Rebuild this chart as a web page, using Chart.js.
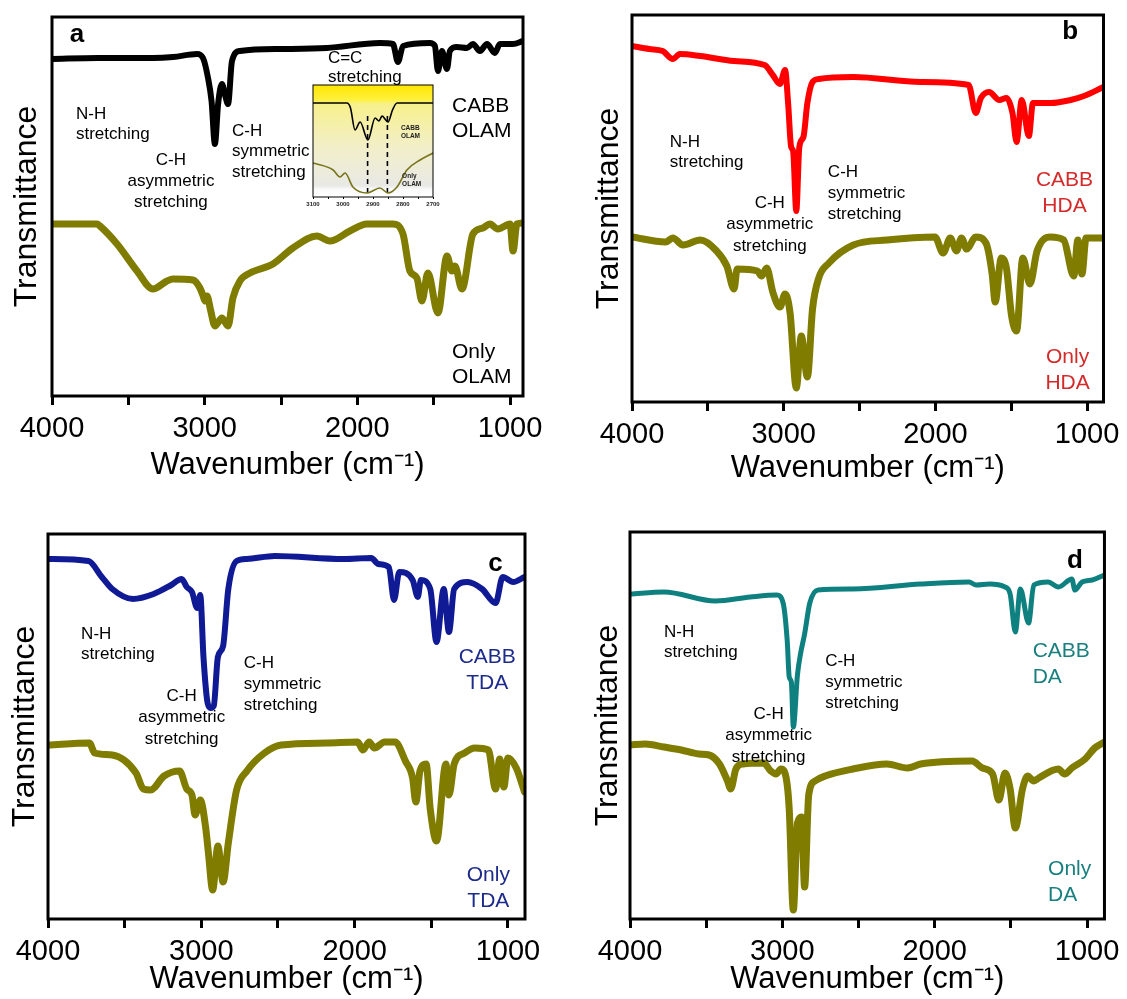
<!DOCTYPE html>
<html>
<head>
<meta charset="utf-8">
<title>FTIR spectra</title>
<script src="https://cdn.jsdelivr.net/npm/chart.js@4.4.1/dist/chart.umd.min.js"></script>
<style>
  body { margin: 0; background: #fff; }
  #fig { position: relative; width: 1127px; height: 999px; overflow: hidden; }
  #fig canvas { position: absolute; }
</style>
</head>
<body>
<div id="fig">
  <canvas id="pa" width="565" height="492" style="left:0px;top:0px"></canvas>
  <canvas id="pb" width="562" height="492" style="left:565px;top:0px"></canvas>
  <canvas id="pc" width="565" height="499" style="left:0px;top:500px"></canvas>
  <canvas id="pd" width="562" height="499" style="left:565px;top:500px"></canvas>
  <canvas id="inset" width="150" height="135" style="left:300px;top:80px"></canvas>
</div>
<script>
// wavenumber (cm-1), transmittance (a.u., offset traces)
const cabbOlam = [[4000,337],[3700,338],[3339,338],[3207,339],[3050,342],[3011,338],[2978,318],[2955,295],[2933,252],[2912,292],[2887,312],[2865,300],[2847,292],[2821,335],[2769,345],[2500,347],[2200,348],[1852,353],[1767,352],[1734,334],[1701,350],[1525,353],[1492,350],[1472,325],[1446,345],[1413,327],[1394,345],[1348,349],[1282,348],[1243,352],[1197,345],[1151,352],[1099,343],[1066,352],[981,352],[915,355]];
const onlyOlam = [[4000,172],[3705,172],[3686,170],[3574,152],[3443,125],[3339,107],[3247,115],[3207,117],[3077,116],[3031,108],[3010,100],[2998,95],[2985,100],[2960,85],[2933,70],[2887,78],[2847,70],[2815,98],[2769,115],[2703,123],[2553,132],[2422,148],[2265,160],[2180,155],[2049,165],[1937,172],[1767,172],[1701,162],[1656,125],[1610,118],[1577,95],[1538,123],[1472,83],[1413,140],[1380,125],[1361,130],[1315,107],[1243,162],[1178,168],[1132,172],[1080,167],[1000,172],[980,145],[955,172],[915,173]];

const cabbHda = [[4000,356],[3886,353],[3798,351],[3731,343],[3684,348],[3550,346],[3327,341],[3126,337],[3072,327],[3025,318],[2991,332],[2971,299],[2951,255],[2938,251],[2917,191],[2897,255],[2870,265],[2844,299],[2810,320],[2769,323],[2541,325],[2097,320],[1781,317],[1734,289],[1700,304],[1646,310],[1579,302],[1532,304],[1492,289],[1465,260],[1431,302],[1384,266],[1357,299],[1243,299],[1108,302],[1021,306],[892,315]];
const onlyHda = [[4000,165],[3778,160],[3731,164],[3664,157],[3550,162],[3442,151],[3375,136],[3327,113],[3307,133],[3173,131],[3146,126],[3112,134],[3072,110],[3025,95],[2991,108],[2958,89],[2917,14],[2884,66],[2844,25],[2810,93],[2769,124],[2702,139],[2541,157],[2319,162],[2003,165],[1949,149],[1902,164],[1861,151],[1828,164],[1794,153],[1734,165],[1667,159],[1626,128],[1606,100],[1566,144],[1532,134],[1498,86],[1465,71],[1424,144],[1377,118],[1330,151],[1243,165],[1155,162],[1088,126],[1061,162],[1034,128],[1007,164],[892,164]];

const cabbTda = [[4000,360],[3736,358],[3649,342],[3581,330],[3446,320],[3311,325],[3196,334],[3128,340],[3095,332],[3061,327],[3027,311],[3007,324],[2986,262],[2959,216],[2939,211],[2919,213],[2892,262],[2858,273],[2824,330],[2770,358],[2703,360],[2520,363],[2074,360],[1892,361],[1845,355],[1777,352],[1743,319],[1709,347],[1622,339],[1588,322],[1568,339],[1507,330],[1466,277],[1419,330],[1385,287],[1351,330],[1264,337],[1169,330],[1081,316],[1034,342],[966,337],[892,342]];
const onlyTda = [[4000,174],[3730,176],[3696,166],[3581,164],[3426,146],[3378,130],[3331,129],[3243,143],[3142,148],[3095,130],[3061,124],[3041,104],[3007,119],[2973,93],[2953,65],[2926,29],[2892,73],[2858,37],[2824,76],[2770,129],[2703,148],[2588,166],[2480,174],[2182,176],[1980,177],[1946,169],[1905,177],[1872,171],[1804,177],[1736,177],[1669,158],[1622,141],[1601,117],[1574,148],[1534,155],[1507,110],[1466,78],[1405,155],[1385,124],[1351,155],[1284,166],[1216,171],[1128,169],[1081,130],[1054,160],[1027,132],[1000,161],[946,151],[892,127]];

const cabbDa = [[4000,325],[3777,327],[3440,318],[3211,322],[3036,324],[2995,316],[2968,278],[2955,242],[2941,237],[2928,192],[2901,244],[2881,265],[2854,285],[2820,316],[2766,329],[2537,330],[2092,335],[1775,337],[1728,334],[1640,335],[1539,332],[1505,325],[1471,287],[1438,330],[1384,296],[1350,334],[1256,337],[1188,332],[1100,340],[1080,329],[1033,337],[966,339],[886,344]];
const onlyDa = [[4000,174],[3900,175],[3777,172],[3663,169],[3550,165],[3481,164],[3413,155],[3360,138],[3339,130],[3305,150],[3258,155],[3123,156],[3076,148],[3042,145],[3009,150],[2975,141],[2955,110],[2928,9],[2901,96],[2874,102],[2854,32],[2827,124],[2786,138],[2719,143],[2537,150],[2314,155],[2179,151],[2092,155],[1755,158],[1687,151],[1620,145],[1579,119],[1539,146],[1505,130],[1471,91],[1424,130],[1390,143],[1350,138],[1317,141],[1188,150],[1148,145],[1100,151],[1013,160],[950,171],[886,177]];

// C-H stretching region, zoomed
const insetCabbOlam = [[3100,94],[2987,94],[2975,89],[2960,67],[2943,75],[2917,57],[2893,79],[2880,76],[2870,81],[2850,75],[2835,87],[2820,94],[2700,94]];
const insetOnlyOlam = [[3100,34],[3033,27],[3010,20],[2993,24],[2967,10],[2920,4],[2877,9],[2850,4],[2820,10],[2787,27],[2743,37],[2700,44]];
const insetMarks = [2918, 2852];

const xTicks = [4000, 3500, 3000, 2500, 2000, 1500, 1000];
const insetTicks = [3100, 3050, 3000, 2950, 2900, 2850, 2800, 2750, 2700];

const FAMILY = 'Arial, "Liberation Sans", sans-serif';
const OLIVE = '#7f7c00';

const framePlugin = {
  id: 'frame',
  afterDraw(chart) {
    const {ctx, chartArea: a} = chart;
    ctx.save();
    ctx.strokeStyle = '#000';
    ctx.lineWidth = chart.canvas.id === 'inset' ? 1 : 3;
    ctx.strokeRect(a.left, a.top, a.right - a.left, a.bottom - a.top);
    ctx.restore();
  }
};

function notesPlugin(notes) {
  return {
    id: 'notes',
    afterDatasetsDraw(chart) {
      const {ctx, scales: {x, y}} = chart;
      ctx.save();
      ctx.textBaseline = 'middle';
      for (const n of notes) {
        ctx.font = (n.bold ? 'bold ' : '') + n.size + 'px ' + FAMILY;
        ctx.fillStyle = n.color || '#000';
        ctx.textAlign = n.align || 'left';
        const px = x.getPixelForValue(n.x);
        const py = y.getPixelForValue(n.y);
        n.text.forEach((t, i) => ctx.fillText(t, px, py + i * (n.lh || 0)));
      }
      ctx.restore();
    }
  };
}

function line(pts, color, width) {
  return {
    data: pts.map(([x, y]) => ({x, y})),
    borderColor: color,
    borderWidth: width,
    pointRadius: 0,
    cubicInterpolationMode: 'monotone',
    fill: false,
    borderJoinStyle: 'round',
    borderCapStyle: 'round'
  };
}

function bandNotes(c) {
  // common band labels; k stretches the line spacing a little per panel
  const k = c.k || 1;
  return [
    {text: [c.letter], x: c.letterAt[0], y: c.letterAt[1], size: 26, bold: true, align: 'center'},
    {text: ['N-H', 'stretching'], x: c.nh[0], y: c.nh[1], size: 17, lh: 20 * k},
    {text: ['C-H', 'asymmetric', 'stretching'], x: c.asym[0], y: c.asym[1], size: 17, lh: 21 * k, align: 'center'},
    {text: ['C-H', 'symmetric', 'stretching'], x: c.sym[0], y: c.sym[1], size: 17, lh: 20.5 * k},
    {text: ['CABB', c.name], x: c.top[0], y: c.top[1], size: 21, lh: 25 * k, color: c.color, align: c.align},
    {text: ['Only', c.name], x: c.bottom[0], y: c.bottom[1], size: 21, lh: 25 * k, color: c.color, align: c.align}
  ];
}

function panel(id, cfg) {
  return new Chart(document.getElementById(id), {
    type: 'line',
    data: {datasets: [line(cfg.top, cfg.color, cfg.width), line(cfg.bottom, OLIVE, 7)]},
    options: {
      responsive: false,
      animation: false,
      events: [],
      layout: {padding: {left: 0, top: cfg.padTop, right: cfg.padRight, bottom: 0}},
      plugins: {legend: {display: false}, tooltip: {enabled: false}},
      scales: {
        x: {
          type: 'linear',
          reverse: true,
          min: cfg.xMin,
          max: 4000,
          afterBuildTicks: s => { s.ticks = xTicks.map(v => ({value: v})); },
          afterFit: s => { s.height = cfg.xH; },
          ticks: {
            callback: v => (v % 1000 === 0 ? String(v) : ''),
            font: {size: 29, family: FAMILY},
            color: '#000',
            padding: 7,
            maxRotation: 0,
            autoSkip: false
          },
          grid: {drawOnChartArea: false, drawTicks: true, tickLength: 9, tickWidth: 3, tickColor: '#000'},
          border: {display: false},
          title: {
            display: true,
            text: 'Wavenumber (cm\u207B\u00B9)',
            font: {size: 31, family: FAMILY},
            color: '#000',
            padding: {top: 0, bottom: cfg.xTitlePad}
          }
        },
        y: {
          min: 0,
          max: cfg.yMax,
          afterFit: s => { s.width = cfg.yW; },
          ticks: {display: false},
          grid: {display: false},
          border: {display: false},
          title: {
            display: true,
            text: 'Transmittance',
            font: {size: 32, family: FAMILY},
            color: '#000',
            padding: {top: cfg.yTitlePad, bottom: 0}
          }
        }
      }
    },
    plugins: [framePlugin, notesPlugin(cfg.notes)]
  });
}

panel('pa', {
  top: cabbOlam, bottom: onlyOlam, color: '#000', width: 6,
  xMin: 915, yMax: 379, padTop: 17, padRight: 42, xH: 96, yW: 52, xTitlePad: 8, yTitlePad: 8,
  notes: bandNotes({
    letter: 'a', letterAt: [3836, 361], name: 'OLAM', color: '#000', align: 'left',
    nh: [3843, 282], asym: [3221, 236], sym: [2821, 265], top: [1380, 290], bottom: [1380, 44]
  }).concat([{text: ['C=C', 'stretching'], x: 2193, y: 338, size: 17, lh: 19}])
});

panel('pb', {
  top: cabbHda, bottom: onlyHda, color: '#ff0000', width: 6,
  xMin: 892, yMax: 387, padTop: 15, padRight: 18, xH: 90, yW: 67, xTitlePad: 5, yTitlePad: 25,
  notes: bandNotes({
    letter: 'b', letterAt: [1112, 370], name: 'HDA', color: '#d42a2a', align: 'center', k: 1.03,
    nh: [3751, 260], asym: [3092, 199], sym: [2709, 230], top: [1149, 222], bottom: [1129, 45]
  })
});

panel('pc', {
  top: cabbTda, bottom: onlyTda, color: '#0f1a94', width: 6,
  xMin: 889, yMax: 385, padTop: 34, padRight: 40, xH: 80, yW: 48, xTitlePad: 1, yTitlePad: 6,
  notes: bandNotes({
    letter: 'c', letterAt: [1081, 355], name: 'TDA', color: '#1c2a8c', align: 'center', k: 1.03,
    nh: [3784, 285], asym: [3128, 223], sym: [2723, 256], top: [1135, 262], bottom: [1128, 44]
  })
});

panel('pd', {
  top: cabbDa, bottom: onlyDa, color: '#0f8080', width: 5,
  xMin: 886, yMax: 387, padTop: 32, padRight: 18, xH: 80, yW: 65, xTitlePad: 1, yTitlePad: 24,
  notes: bandNotes({
    letter: 'd', letterAt: [1080, 358], name: 'DA', color: '#1a7f7f', align: 'left', k: 1.03,
    nh: [3777, 287], asym: [3090, 205], sym: [2719, 258], top: [1357, 268], bottom: [1256, 50]
  })
});

// inset: yellow-to-grey backdrop behind the zoomed C-H region
const insetBg = {
  id: 'insetBg',
  beforeDatasetsDraw(chart) {
    const {ctx, chartArea: a} = chart;
    const g = ctx.createLinearGradient(0, a.top, 0, a.bottom);
    g.addColorStop(0, '#ffe600');
    g.addColorStop(0.13, '#fff03c');
    g.addColorStop(0.17, '#f8f08c');
    g.addColorStop(0.55, '#f2efc8');
    g.addColorStop(0.9, '#e9e9e6');
    g.addColorStop(0.93, '#fafafa');
    g.addColorStop(1, '#ffffff');
    ctx.save();
    ctx.fillStyle = g;
    ctx.fillRect(a.left, a.top, a.right - a.left, a.bottom - a.top);
    ctx.restore();
  }
};

const insetDash = insetMarks.map(m => ({
  data: [{x: m, y: 4}, {x: m, y: 82}],
  borderColor: '#000',
  borderWidth: 1.6,
  borderDash: [5, 4],
  pointRadius: 0
}));

new Chart(document.getElementById('inset'), {
  type: 'line',
  data: {datasets: [line(insetCabbOlam, '#000', 1.6), line(insetOnlyOlam, '#77741a', 1.6)].concat(insetDash)},
  options: {
    responsive: false,
    animation: false,
    events: [],
    layout: {padding: {left: 0, top: 5, right: 17, bottom: 0}},
    plugins: {legend: {display: false}, tooltip: {enabled: false}},
    scales: {
      x: {
        type: 'linear', reverse: true, min: 2700, max: 3100,
        afterBuildTicks: s => { s.ticks = insetTicks.map(v => ({value: v})); },
        afterFit: s => { s.height = 18; },
        ticks: {
          callback: v => (v % 100 === 0 ? String(v) : ''),
          font: {size: 6, weight: 'bold', family: FAMILY},
          color: '#222', padding: 2, maxRotation: 0, autoSkip: false
        },
        grid: {drawOnChartArea: false, tickLength: 2, tickWidth: 1, tickColor: '#000'},
        border: {display: false}
      },
      y: {
        min: 0, max: 112,
        afterFit: s => { s.width = 13; },
        ticks: {display: false}, grid: {display: false}, border: {display: false}
      }
    }
  },
  plugins: [insetBg, framePlugin, notesPlugin([
    {text: ['CABB', 'OLAM'], x: 2807, y: 69, size: 6.5, bold: true, lh: 8, color: '#222'},
    {text: ['Only', 'OLAM'], x: 2803, y: 21, size: 6.5, bold: true, lh: 8, color: '#222'}
  ])]
});
</script>
</body>
</html>
